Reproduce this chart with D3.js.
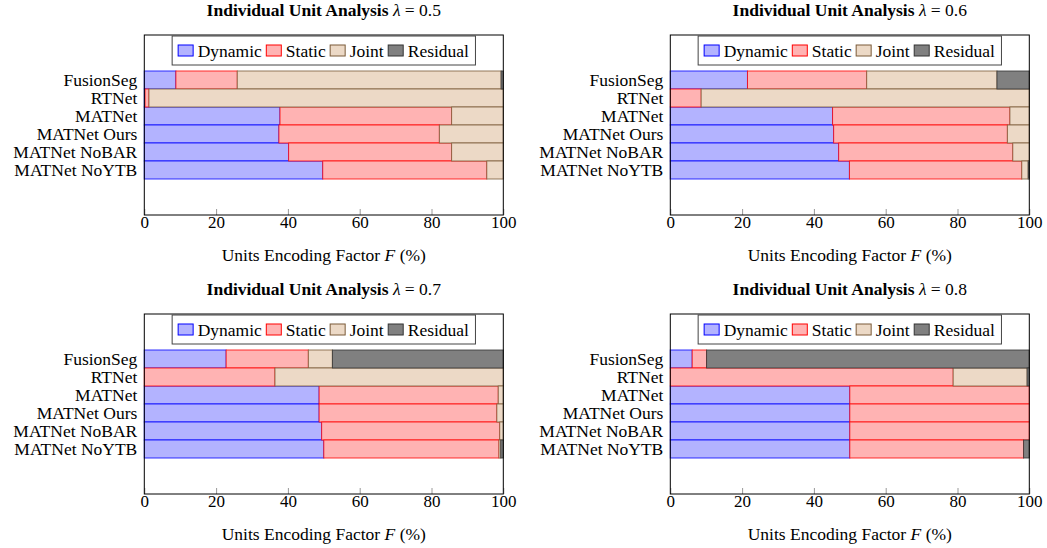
<!DOCTYPE html>
<html>
<head>
<meta charset="utf-8">
<script src="https://cdn.jsdelivr.net/npm/d3@7"></script>
<style>
  body { margin: 0; background: #fff; }
  svg, svg text { font-family: "Liberation Serif", "DejaVu Serif", serif; }
</style>
</head>
<body>
<svg id="chart" width="1047" height="548"></svg>
<script>
// methods, top to bottom
const methods = ['FusionSeg', 'RTNet', 'MATNet', 'MATNet Ours', 'MATNet NoBAR', 'MATNet NoYTB']
const series = ['Dynamic', 'Static', 'Joint', 'Residual']
const lambdas = ['0.5', '0.6', '0.7', '0.8']
const xTicks = [0, 20, 40, 60, 80, 100]

// one row per lambda, one value per method (%)
const dynamicVals = [
  [8.8, 0.2, 37.8, 37.5, 40.2, 49.7],
  [21.5, 0, 45.2, 45.5, 46.9, 49.9],
  [22.8, 0, 48.7, 48.7, 49.4, 50.0],
  [6.1, 0, 50.0, 50.0, 50.0, 50.0]
]
const staticVals = [
  [17.1, 1.1, 47.8, 44.7, 45.4, 45.7],
  [33.2, 8.6, 49.4, 48.4, 48.5, 48.0],
  [22.9, 36.4, 49.9, 49.5, 49.6, 48.8],
  [4.0, 78.8, 50.0, 50.0, 50.0, 48.4]
]
const jointVals = [
  [73.5, 98.7, 14.4, 17.8, 14.4, 4.6],
  [36.3, 91.4, 5.4, 6.1, 4.6, 1.8],
  [6.7, 63.6, 1.4, 1.8, 1.0, 0.5],
  [0, 20.6, 0, 0, 0, 0]
]
const residualVals = [
  [0.6, 0, 0, 0, 0, 0],
  [9.0, 0, 0, 0, 0, 0.3],
  [47.6, 0, 0, 0, 0, 0.7],
  [89.9, 0.6, 0, 0, 0, 1.6]
]

const fills = { Dynamic: '#b3b3ff', Static: '#ffb3b3', Joint: '#ecd9c6', Residual: '#808080' }
const strokes = { Dynamic: '#0000ff', Static: '#ff0000', Joint: '#7a5a38', Residual: '#333333' }
const serif = '"Liberation Serif", "DejaVu Serif", serif'

const svg = d3.select('#chart')

const panelW = 359
const panelH = 180
const lefts = [144.3, 670.3]
const tops = [35, 314]

lambdas.forEach((lam, i) => {
  const left = lefts[i % 2]
  const top = tops[Math.floor(i / 2)]

  const rows = methods.map((m, j) => ({
    method: m,
    Dynamic: dynamicVals[i][j],
    Static: staticVals[i][j],
    Joint: jointVals[i][j],
    Residual: residualVals[i][j]
  }))
  const stacked = d3.stack().keys(series)(rows)

  const x = d3.scaleLinear().domain([0, 100]).range([0, panelW])
  const y = d3.scaleBand().domain(methods).range([36, panelH - 36]).padding(0)

  const g = svg.append('g')
    .attr('transform', `translate(${left},${top})`)
    .attr('font-family', serif)

  // 标题
  const title = g.append('text')
    .attr('x', panelW / 2)
    .attr('y', -19)
    .attr('text-anchor', 'middle')
    .attr('font-family', serif)
    .style('font-size', '17.5px')
  title.append('tspan').attr('font-weight', 'bold').text('Individual Unit Analysis ')
  title.append('tspan').attr('font-style', 'italic').text('λ')
  title.append('tspan').text(' = ' + lam)

  // 柱子
  stacked.forEach(s => {
    g.append('g')
      .selectAll('rect')
      .data(s.filter(d => d[1] - d[0] > 0))
      .enter()
      .append('rect')
      .attr('x', d => x(d[0]))
      .attr('y', d => y(d.data.method))
      .attr('width', d => x(d[1]) - x(d[0]))
      .attr('height', y.bandwidth())
      .style('fill', fills[s.key])
      .style('stroke', strokes[s.key])
      .style('stroke-opacity', 0.8)
      .style('stroke-width', 1)
  })

  // x 轴
  const xAxis = g.append('g')
    .attr('transform', `translate(0,${panelH})`)
    .call(d3.axisBottom(x).tickValues(xTicks).tickSize(-6).tickSizeOuter(0).tickPadding(1))
  xAxis.attr('font-family', serif)
  xAxis.select('.domain').remove()
  xAxis.selectAll('.tick line').attr('stroke', '#999')
  xAxis.selectAll('.tick text')
    .attr('font-family', serif)
    .style('font-size', '17px')
    .attr('fill', '#000')

  // y 轴
  const yAxis = g.append('g')
    .call(d3.axisLeft(y).tickSize(0).tickPadding(7))
  yAxis.attr('font-family', serif)
  yAxis.select('.domain').remove()
  yAxis.selectAll('.tick text')
    .attr('font-family', serif)
    .style('font-size', '17.5px')
    .attr('fill', '#000')

  // 边框
  g.append('rect')
    .attr('x', 0).attr('y', 0)
    .attr('width', panelW).attr('height', panelH)
    .style('fill', 'none')
    .style('stroke', '#000')
    .style('stroke-width', 1)

  // x 轴标题
  const xl = g.append('text')
    .attr('x', panelW / 2)
    .attr('y', panelH + 46)
    .attr('text-anchor', 'middle')
    .attr('font-family', serif)
    .style('font-size', '17.5px')
  xl.append('tspan').text('Units Encoding Factor ')
  xl.append('tspan').attr('font-style', 'italic').text('F')
  xl.append('tspan').text(' (%)')

  // 图例
  const leg = g.append('g')
  const items = leg.append('g')
  let cx = 6
  series.forEach(s => {
    items.append('rect')
      .attr('x', cx).attr('y', 9)
      .attr('width', 15).attr('height', 11)
      .style('fill', fills[s])
      .style('stroke', strokes[s])
      .style('stroke-width', 1)
    const t = items.append('text')
      .attr('x', cx + 19.5)
      .attr('y', 20.5)
      .attr('font-family', serif)
      .style('font-size', '17.5px')
      .text(s)
    cx += 19.5 + t.node().getComputedTextLength() + 4.5
  })
  const legW = cx + 2
  leg.insert('rect', ':first-child')
    .attr('x', 0).attr('y', 0)
    .attr('width', legW).attr('height', 29)
    .style('fill', '#fff')
    .style('stroke', '#444')
    .style('stroke-width', 1)
  leg.attr('transform', `translate(${(panelW - legW) / 2},1)`)
})
</script>
</body>
</html>
